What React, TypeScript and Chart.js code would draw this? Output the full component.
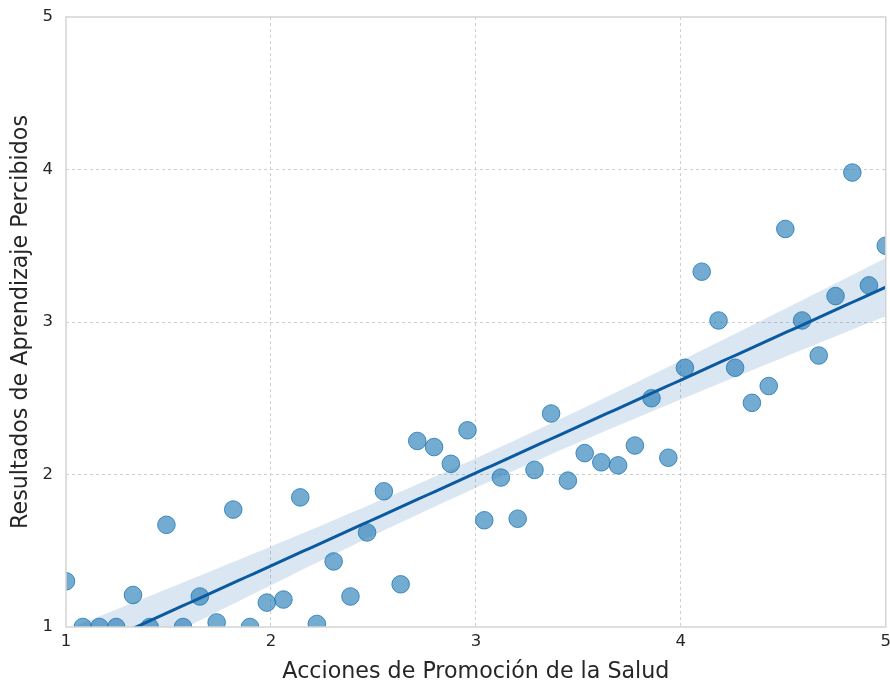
import React, { useEffect, useRef } from "react";
import { Chart, registerables } from "chart.js";

Chart.register(...registerables);

const xValues: number[] = [
  1.0, 1.082, 1.163, 1.245, 1.327, 1.408, 1.49, 1.571, 1.653, 1.735,
  1.816, 1.898, 1.98, 2.061, 2.143, 2.224, 2.306, 2.388, 2.469, 2.551,
  2.633, 2.714, 2.796, 2.878, 2.959, 3.041, 3.122, 3.204, 3.286, 3.367,
  3.449, 3.531, 3.612, 3.694, 3.776, 3.857, 3.939, 4.02, 4.102, 4.184,
  4.265, 4.347, 4.429, 4.51, 4.592, 4.673, 4.755, 4.837, 4.918, 5.0,
];

const yValues: number[] = [
  1.3, 1.0, 1.0, 1.0, 1.21, 1.0, 1.67, 1.0, 1.2, 1.03,
  1.77, 1.0, 1.16, 1.18, 1.85, 1.02, 1.43, 1.2, 1.62, 1.89,
  1.28, 2.22, 2.18, 2.07, 2.29, 1.7, 1.98, 1.71, 2.03, 2.4,
  1.96, 2.14, 2.08, 2.06, 2.19, 2.5, 2.11, 2.7, 3.33, 3.01,
  2.7, 2.47, 2.58, 3.61, 3.01, 2.78, 3.17, 3.98, 3.24, 3.5,
];

const xTicks: number[] = [1, 2, 3, 4, 5];
const yTicks: number[] = [1, 2, 3, 4, 5];

const xTitle = "Acciones de Promoción de la Salud";
const yTitle = "Resultados de Aprendizaje Percibidos";

const FONT = "'DejaVu Sans', sans-serif";
const TEXT = "#262626";

function regression(xs: number[], ys: number[]) {
  const n = xs.length;
  const mx = xs.reduce((a, b) => a + b, 0) / n;
  const my = ys.reduce((a, b) => a + b, 0) / n;
  let sxx = 0;
  let sxy = 0;
  for (let i = 0; i < n; i++) {
    sxx += (xs[i] - mx) ** 2;
    sxy += (xs[i] - mx) * (ys[i] - my);
  }
  const slope = sxy / sxx;
  const intercept = my - slope * mx;
  let sse = 0;
  for (let i = 0; i < n; i++) {
    sse += (ys[i] - (intercept + slope * xs[i])) ** 2;
  }
  const s = Math.sqrt(sse / (n - 2));
  const t = 2.0106;
  const xmin = Math.min(...xs);
  const xmax = Math.max(...xs);
  const line: { x: number; y: number }[] = [];
  const upper: { x: number; y: number }[] = [];
  const lower: { x: number; y: number }[] = [];
  const steps = 100;
  for (let k = 0; k <= steps; k++) {
    const x = xmin + ((xmax - xmin) * k) / steps;
    const yh = intercept + slope * x;
    const se = s * Math.sqrt(1 / n + (x - mx) ** 2 / sxx);
    line.push({ x, y: yh });
    upper.push({ x, y: yh + t * se });
    lower.push({ x, y: yh - t * se });
  }
  return { line, upper, lower };
}

const CANVAS_W = 896;
const CANVAS_H = 686;

export default function App() {
  const canvasRef = useRef<HTMLCanvasElement | null>(null);

  useEffect(() => {
    document.body.style.margin = "0";
    const canvas = canvasRef.current;
    if (!canvas) return;
    const { line, upper, lower } = regression(xValues, yValues);
    const points = xValues.map((x, i) => ({ x, y: yValues[i] }));

    const frame = {
      id: "frame",
      afterDatasetsDraw(chart: any) {
        const { ctx, chartArea } = chart;
        ctx.save();
        ctx.strokeStyle = "#d4d4d4";
        ctx.lineWidth = 1.5;
        ctx.setLineDash([]);
        ctx.strokeRect(
          chartArea.left,
          chartArea.top,
          chartArea.right - chartArea.left,
          chartArea.bottom - chartArea.top
        );
        ctx.restore();
      },
    };

    const gridColor = (ctx: any) => {
      const v = ctx.tick ? ctx.tick.value : null;
      if (v === 1 || v === 5) return "rgba(0,0,0,0)";
      return "#cfcfcf";
    };

    const chart = new Chart(canvas, {
      type: "scatter",
      data: {
        datasets: [
          {
            type: "line",
            data: upper,
            borderWidth: 0,
            pointRadius: 0,
            fill: "+1",
            backgroundColor: "rgba(10,90,160,0.15)",
            borderColor: "rgba(0,0,0,0)",
            order: 3,
            clip: 0,
          } as any,
          {
            type: "line",
            data: lower,
            borderWidth: 0,
            pointRadius: 0,
            fill: false,
            borderColor: "rgba(0,0,0,0)",
            order: 4,
            clip: 0,
          } as any,
          {
            type: "scatter",
            data: points,
            pointRadius: 8.8,
            pointBorderWidth: 1,
            backgroundColor: "rgba(31,119,180,0.62)",
            borderColor: "rgba(31,119,180,0.8)",
            order: 1,
            clip: 0,
          } as any,
          {
            type: "line",
            data: line,
            borderWidth: 3,
            pointRadius: 0,
            borderColor: "#0b5aa0",
            fill: false,
            order: 0,
            clip: 0,
          } as any,
        ],
      },
      options: {
        animation: false,
        responsive: false,
        maintainAspectRatio: false,
        events: [],
        layout: { padding: { top: 17, right: 0, left: 0, bottom: 0 } },
        plugins: {
          legend: { display: false },
          tooltip: { enabled: false },
        },
        scales: {
          x: {
            type: "linear",
            min: 1,
            max: 5,
            afterBuildTicks: (scale: any) => {
              scale.ticks = xTicks.map((v) => ({ value: v }));
            },
            afterFit: (scale: any) => {
              scale.height = 59;
            },
            ticks: {
              padding: 5,
              color: TEXT,
              font: { family: FONT, size: 16.5 },
              maxRotation: 0,
            },
            grid: {
              color: gridColor,
              lineWidth: 1,
              drawTicks: false,
            },
            border: { display: false, dash: [3, 3] },
            title: {
              display: true,
              text: xTitle,
              color: TEXT,
              font: { family: FONT, size: 22.2 },
              padding: { top: 0, bottom: 0 },
            },
          },
          y: {
            type: "linear",
            min: 1,
            max: 5,
            afterBuildTicks: (scale: any) => {
              scale.ticks = yTicks.map((v) => ({ value: v }));
            },
            afterFit: (scale: any) => {
              scale.width = 66;
              scale.paddingTop = 0;
              scale.paddingBottom = 0;
            },
            ticks: {
              padding: 13,
              color: TEXT,
              font: { family: FONT, size: 16.5 },
            },
            grid: {
              color: gridColor,
              lineWidth: 1,
              drawTicks: false,
            },
            border: { display: false, dash: [3, 3] },
            title: {
              display: true,
              text: yTitle,
              color: TEXT,
              font: { family: FONT, size: 22.2 },
              padding: { top: 8, bottom: 0 },
            },
          },
        },
      } as any,
      plugins: [frame],
    });

    return () => {
      chart.destroy();
    };
  }, []);

  return (
    <div style={{ width: 890, height: 686, position: "relative", overflow: "hidden" }}>
      <canvas
        ref={canvasRef}
        width={CANVAS_W}
        height={CANVAS_H}
        style={{ width: CANVAS_W, height: CANVAS_H, display: "block" }}
      />
    </div>
  );
}
